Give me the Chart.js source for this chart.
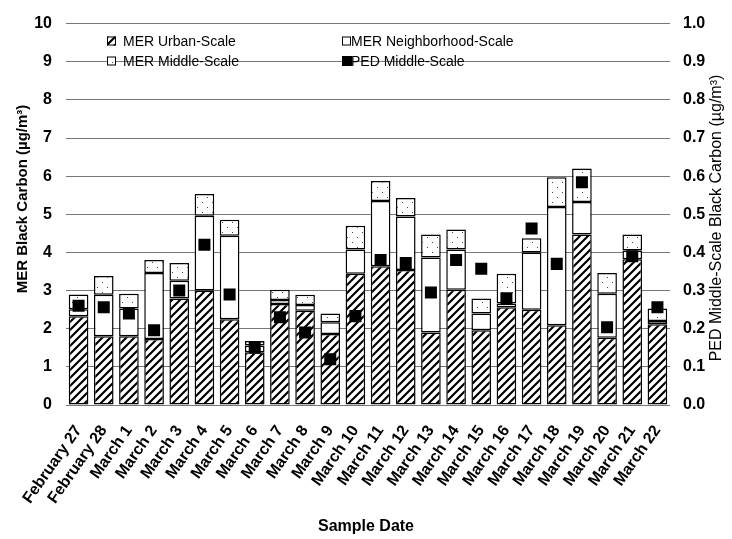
<!DOCTYPE html>
<html>
<head>
<meta charset="utf-8">
<script src="https://cdn.jsdelivr.net/npm/chart.js@4.4.1/dist/chart.umd.min.js"></script>
<style>
  html, body { margin: 0; padding: 0; background: #fff; }
</style>
</head>
<body>
<canvas id="bc-chart" width="732" height="539"></canvas>
<script>
// Sample dates (x categories)
const sampleDates = [
  'February 27', 'February 28', 'March 1', 'March 2', 'March 3', 'March 4',
  'March 5', 'March 6', 'March 7', 'March 8', 'March 9', 'March 10',
  'March 11', 'March 12', 'March 13', 'March 14', 'March 15', 'March 16',
  'March 17', 'March 18', 'March 19', 'March 20', 'March 21', 'March 22'
];

// MER black carbon, stacked by scale (µg/m³, left axis)
const merUrban = [2.33, 1.80, 1.80, 1.73, 2.79, 3.00, 2.25, 1.38, 2.65, 2.47, 1.86, 3.44,
                  3.64, 3.54, 1.90, 3.02, 1.96, 2.56, 2.50, 2.09, 4.47, 1.76, 3.82, 2.12];
const merNeighborhood = [0.18, 1.09, 0.73, 1.73, 0.47, 1.96, 2.19, 0.18, 0.10, 0.15, 0.31, 0.64,
                         1.71, 1.40, 1.97, 1.06, 0.44, 0.10, 1.50, 3.10, 0.85, 1.16, 0.23, 0.08];
const merMiddle = [0.39, 0.49, 0.39, 0.34, 0.46, 0.57, 0.42, 0.12, 0.27, 0.27, 0.23, 0.62,
                   0.52, 0.49, 0.60, 0.52, 0.39, 0.78, 0.37, 0.78, 0.88, 0.54, 0.42, 0.33];

// PED middle-scale black carbon (µg/m³, right axis)
const pedMiddle = [0.26, 0.256, 0.24, 0.196, 0.30, 0.42, 0.29, 0.15, 0.23, 0.19, 0.12, 0.233,
                   0.38, 0.372, 0.295, 0.38, 0.357, 0.28, 0.463, 0.37, 0.584, 0.204, 0.39, 0.256];

const legendLabels = ['MER Urban-Scale', 'MER Neighborhood-Scale', 'MER Middle-Scale', 'PED Middle-Scale'];

/** Diagonal hatch fill for the urban-scale segments. */
function makeHatch(ctx) {
  const c = document.createElement('canvas');
  c.width = 8; c.height = 8;
  const g = c.getContext('2d');
  g.fillStyle = '#fff';
  g.fillRect(0, 0, 8, 8);
  g.strokeStyle = '#000';
  g.lineWidth = 2.2;
  g.beginPath();
  g.moveTo(-1, 9); g.lineTo(9, -1);
  g.moveTo(-3, 3); g.lineTo(3, -3);
  g.moveTo(5, 11); g.lineTo(11, 5);
  g.stroke();
  return ctx.createPattern(c, 'repeat');
}

/** Sparse dot fill for the middle-scale segments. */
function makeDots(ctx) {
  const c = document.createElement('canvas');
  c.width = 10; c.height = 10;
  const g = c.getContext('2d');
  g.fillStyle = '#fff';
  g.fillRect(0, 0, 10, 10);
  g.fillStyle = '#444';
  g.fillRect(2, 2, 1, 1);
  g.fillRect(7, 7, 1, 1);
  return ctx.createPattern(c, 'repeat');
}

const canvas = document.getElementById('bc-chart');
const ctx = canvas.getContext('2d');
const hatch = makeHatch(ctx);
const dots = makeDots(ctx);

// Axis titles and the in-plot legend, drawn after the chart
const decorPlugin = {
  id: 'decor',
  afterDraw(chart) {
    const c = chart.ctx;
    c.save();
    c.fillStyle = '#000';
    c.textAlign = 'center';
    c.textBaseline = 'middle';

    c.save();
    c.translate(23, 199);
    c.rotate(-Math.PI / 2);
    c.font = 'bold 15px "Liberation Sans", Arial, sans-serif';
    c.fillText('MER Black Carbon (µg/m³)', 0, 0);
    c.restore();

    c.save();
    c.translate(717, 218);
    c.rotate(-Math.PI / 2);
    c.font = '16px "Liberation Sans", Arial, sans-serif';
    c.fillText('PED Middle-Scale Black Carbon (µg/m³)', 0, 0);
    c.restore();

    c.font = 'bold 16px "Liberation Sans", Arial, sans-serif';
    c.fillText('Sample Date', 366, 527);

    // legend: two rows, two columns
    const fills = [hatch, '#fff', dots, '#000'];
    const spots = [[107, 41, 123], [342, 41, 351], [107, 61, 123], [342, 61, 351]];
    c.font = '14px "Liberation Sans", Arial, sans-serif';
    c.textAlign = 'left';
    spots.forEach(([sx, sy, tx], i) => {
      const s = i === 3 ? 10 : 9;
      c.fillStyle = fills[i];
      c.fillRect(sx, sy - s / 2, s, s);
      c.strokeStyle = '#000';
      c.lineWidth = 1;
      c.strokeRect(sx + 0.5, sy - s / 2 + 0.5, s - 1, s - 1);
      c.fillStyle = '#000';
      c.fillText(legendLabels[i], tx, sy + 1);
    });
    c.restore();
  }
};

const barStyle = { borderColor: '#000', borderWidth: 1.5, borderSkipped: false, order: 1, yAxisID: 'y' };

new Chart(ctx, {
  type: 'bar',
  data: {
    labels: sampleDates,
    datasets: [
      {
        type: 'line', label: legendLabels[3], data: pedMiddle, yAxisID: 'y1', order: 0,
        showLine: false, pointStyle: 'rect', pointRadius: 8.5, pointHoverRadius: 8.5,
        pointBackgroundColor: '#000', pointBorderColor: '#000', pointBorderWidth: 0
      },
      { label: legendLabels[0], data: merUrban, backgroundColor: hatch, ...barStyle },
      { label: legendLabels[1], data: merNeighborhood, backgroundColor: '#fff', ...barStyle },
      { label: legendLabels[2], data: merMiddle, backgroundColor: dots, ...barStyle }
    ]
  },
  options: {
    responsive: false,
    animation: false,
    layout: { padding: { top: 18, left: 0, right: 0, bottom: 0 } },
    datasets: { bar: { barPercentage: 0.78, categoryPercentage: 1.0 } },
    plugins: { legend: { display: false }, tooltip: { enabled: false } },
    scales: {
      x: {
        stacked: true,
        grid: { display: false },
        border: { display: false },
        ticks: {
          color: '#000', autoSkip: false, minRotation: 55, maxRotation: 55, padding: 9,
          font: { family: '"Liberation Sans", Arial, sans-serif', size: 16, weight: 'bold' }
        },
        afterFit: s => { s.height = 134; }
      },
      y: {
        stacked: true, min: 0, max: 10,
        grid: { color: '#777', lineWidth: 1, drawTicks: false },
        border: { display: false },
        ticks: {
          stepSize: 1, color: '#000', padding: 14,
          font: { family: '"Liberation Sans", Arial, sans-serif', size: 16, weight: 'bold' }
        },
        afterFit: s => { s.width = 66; }
      },
      y1: {
        position: 'right', min: 0, max: 1,
        grid: { display: false, drawTicks: false },
        border: { display: false },
        ticks: {
          stepSize: 0.1, color: '#000', padding: 13,
          callback: v => v.toFixed(1),
          font: { family: '"Liberation Sans", Arial, sans-serif', size: 16, weight: 'bold' }
        },
        afterFit: s => { s.width = 62; }
      }
    }
  },
  plugins: [decorPlugin]
});
</script>
</body>
</html>
